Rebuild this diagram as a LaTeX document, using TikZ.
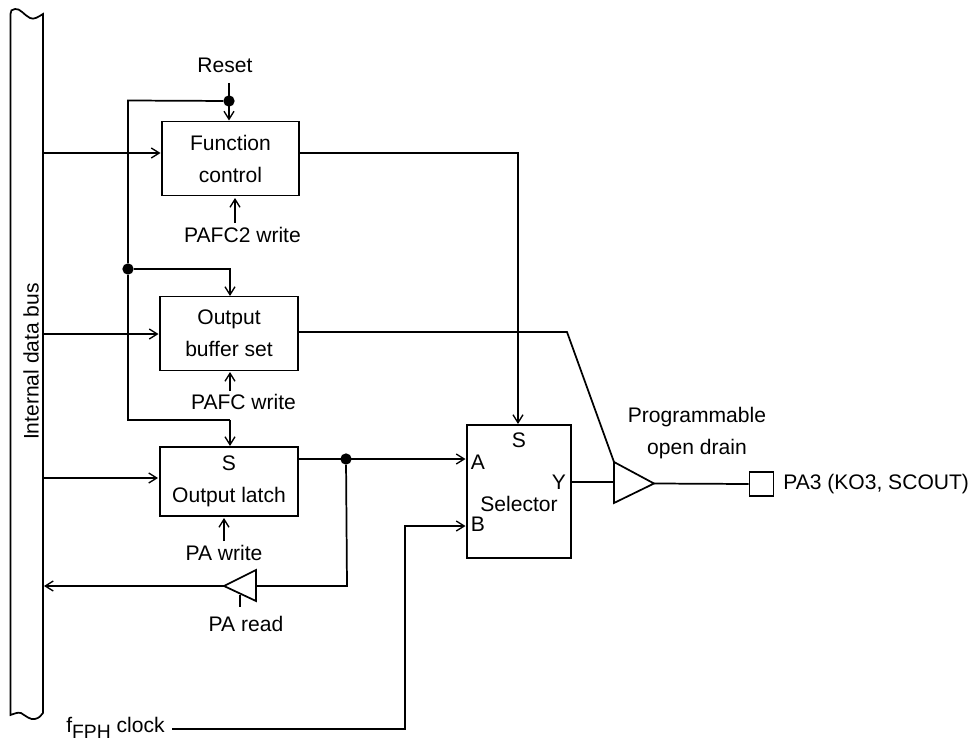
\documentclass[tikz,border=0pt]{standalone}
\usepackage{fontspec}
\setmainfont{Liberation Sans}
\usetikzlibrary{arrows.meta,calc}
\newcommand{\lbl}{\fontsize{15.8}{24}\selectfont}
\tikzset{
  sig/.style={line width=1.3pt,-{Straight Barb[length=6pt,width=7.5pt,line width=1pt]}},
  wire/.style={line width=1.3pt},
  dotnode/.style={circle,fill=black,inner sep=0pt,minimum size=8.5pt},
  blockbox/.style={draw,line width=1.3pt,align=center,inner sep=0pt,font=\lbl},
  txt/.style={inner sep=0pt,font=\lbl,align=center}
}
\begin{document}
\begin{tikzpicture}[x=0.75pt,y=-0.75pt]
	\useasboundingbox (0,0) rectangle (979,742);
	\draw[wire] (43,713) -- (43,14) .. controls (38,17) and (34,20) .. (30,18) .. controls (24,15) and (20,8) .. (15,9) .. controls (12,9) and (10,11) .. (10.5,14) -- (10.5,715) .. controls (14,714) and (17,712) .. (21,713) .. controls (26,716) and (30,720) .. (35,719) .. controls (39,718) and (41,716) .. (43,713);
	\node[txt,rotate=90] (busname) at (31,361.5) {Internal data bus};
	\node[blockbox,minimum width=103pt,minimum height=55.5pt] (fc) at (230.5,158.5) {Function\\control};
	\node[blockbox,minimum width=103.5pt,minimum height=55.5pt] (ob) at (229,333.5) {Output\\buffer set};
	\node[blockbox,minimum width=103.5pt,minimum height=52pt] (ol) at (229,481.5) {S\\Output latch};
	\node[draw,line width=1.3pt,minimum width=78pt,minimum height=99.75pt,inner sep=0pt] (sel) at (519,491.5) {};
	\node[txt] (sels) at (519,440) {S};
	\node[txt] (sela) at (478,462.5) {A};
	\node[txt] (selb) at (478,524.5) {B};
	\node[txt] (sely) at (559,482.5) {Y};
	\node[txt] (selname) at (519,504) {Selector};
	\node[txt] (reset) at (225,65) {Reset};
	\node[txt] (pafc2) at (242.5,235) {PAFC2 write};
	\node[txt] (pafc) at (243.5,402) {PAFC write};
	\node[txt] (pawr) at (224,553) {PA write};
	\node[txt] (pard) at (246,624) {PA read};
	\node[txt] (prog) at (697,433) {Programmable\\open drain};
	\node[txt,anchor=west] (pa3) at (783,484) {PA3 (KO3, SCOUT)};
	\node[txt,anchor=west] (clk) at (66,728) {f\raisebox{-0.6ex}{\fontsize{14.5}{14.5}\selectfont FPH} clock};
	\node[draw,line width=1.3pt,minimum size=18pt,inner sep=0pt] (pad) at (761.5,484) {};
	\node[dotnode] (d1) at (229,101) {};
	\node[dotnode] (d2) at (128,269) {};
	\node[dotnode] (d3) at (346,459) {};
	\coordinate (bigb) at (614,482);
	\coordinate (bigt) at (614,462);
	\coordinate (bigtip) at (654,483.5);
	\coordinate (smallb) at (256,586);
	\coordinate (smalltip) at (224,586);
	\draw[wire] (bigt) -- (bigtip) -- (614,503) -- cycle;
	\draw[wire] (smalltip) -- (256,570) -- (256,601) -- cycle;
	\draw[wire] (240,595) -- (240,607);
	\draw[sig] (229,83) -- (229,120.5);
	\draw[wire] (d1) -- (128,100.5) -- (d2);
	\draw[wire] (d2) -- (128,420) -- (230,420);
	\draw[sig] (230,420) -- (230,446);
	\draw[sig] (d2) -- (230,269) -- (230,296);
	\draw[sig] (43,153) -- (160.5,153);
	\draw[sig] (43,334) -- (158.5,334);
	\draw[sig] (42,478) -- (158,478);
	\draw[sig] (235,223) -- (235,198);
	\draw[sig] (230,391) -- (230,372);
	\draw[sig] (224,541) -- (224,518);
	\draw[sig] (299.5,153) -- (518,153) -- (518,424);
	\draw[wire] (298,332) -- (567,332) -- (bigt);
	\draw[sig] (298,459) -- (465.5,459);
	\draw[wire] (d3) -- (347,586) -- (smallb);
	\draw[sig] (smalltip) -- (44,586);
	\draw[wire] (571,482) -- (bigb);
	\draw[wire] (bigtip) -- (pad.west);
	\draw[sig] (172,729) -- (405,729) -- (405,526) -- (465.5,526);
\end{tikzpicture}
\end{document}
